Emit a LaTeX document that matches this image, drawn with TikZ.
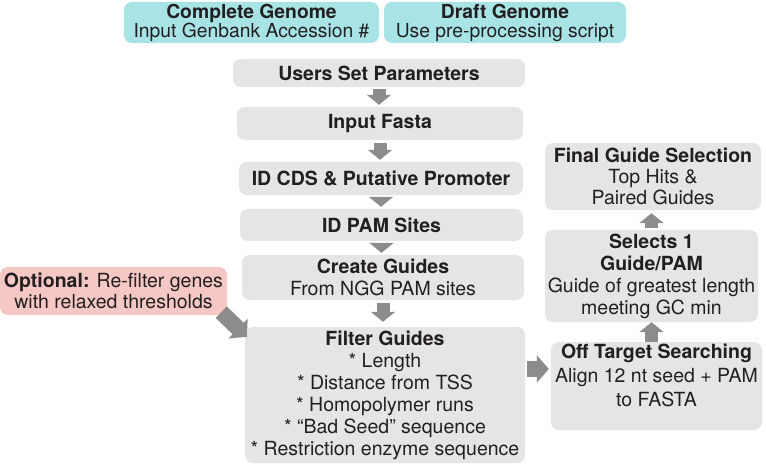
\documentclass[tikz,border=0pt]{standalone}
\usepackage{fontspec}
\setmainfont{TeX Gyre Heros}
\usetikzlibrary{arrows.meta,positioning}
\definecolor{boxgray}{RGB}{229,229,229}
\definecolor{genomecyan}{RGB}{168,228,230}
\definecolor{optpink}{RGB}{245,200,197}
\definecolor{arrowgray}{RGB}{140,140,140}
\definecolor{textblack}{RGB}{35,31,32}
\tikzset{font=\fontsize{19.5}{22}\selectfont}
\tikzset{stepbox/.style={fill=boxgray, rounded corners=8pt, align=center, inner sep=0pt, text=textblack}}
\tikzset{genomebox/.style={stepbox, fill=genomecyan, font=\fontsize{19.3}{19}\selectfont}}
\tikzset{sized/.style 2 args={minimum width=#1pt, minimum height=#2pt}}
\tikzset{flow/.style={draw=arrowgray, line width=13pt, -{Triangle[width=24pt,length=10pt]}}}
\tikzset{bigflow/.style={draw=arrowgray, line width=16pt, -{Triangle[width=27pt,length=12pt]}}}

\begin{document}
\begin{tikzpicture}[x=1pt, y=-1pt]
  \useasboundingbox (0,0) rectangle (766,465);

  % genome input
  \node[genomebox, sized={255}{41}] (complete) at (251.5,22.5) {\textbf{Complete Genome}\\Input Genbank Accession \#};
  \node[genomebox, sized={242}{41}] (draft) at (505,22.5) {\textbf{Draft Genome}\\Use pre-processing script};

  % main column
  \node[stepbox, sized={292}{28}] (params) at (379,73) {\textbf{Users Set Parameters}};
  \node[stepbox, sized={286}{33}] (fasta) at (380,123.5) {\textbf{Input Fasta}};
  \node[stepbox, sized={284}{33}] (cds) at (381,178.5) {\textbf{ID CDS \& Putative Promoter}};
  \node[stepbox, sized={283}{32}] (pam) at (381.5,225) {\textbf{ID PAM Sites}};
  \node[stepbox, sized={282}{45}] (create) at (383,277.5) {\textbf{Create Guides}\\From NGG PAM sites};
  \node[stepbox, sized={280}{136}] (filter) at (385,395) {\textbf{Filter Guides}\\* Length\\* Distance from TSS\\* Homopolymer runs\\* ``Bad Seed'' sequence\\* Restriction enzyme sequence};

  \node[stepbox, fill=optpink, sized={227}{48}, font=\fontsize{19.5}{21}\selectfont] (optional) at (113.5,291) {\textbf{Optional:} Re-filter genes\\with relaxed thresholds};

  % right column
  \node[stepbox, sized={216}{67}, font=\fontsize{19.5}{21}\selectfont] (final) at (653,176.5) {\textbf{Final Guide Selection}\\Top Hits \&\\Paired Guides};
  \node[stepbox, sized={213}{92}] (selects) at (651.5,276) {\textbf{Selects 1}\\\textbf{Guide/PAM}\\Guide of greatest length\\meeting GC min};
  \node[stepbox, sized={211}{88}, font=\fontsize{19.5}{24}\selectfont, text depth=22pt] (offtarget) at (656.5,386) {\textbf{Off Target Searching}\\Align 12 nt seed + PAM\\to FASTA};

  \draw[flow, shorten <=2pt, shorten >=2pt] (params.south) -- (params.south |- fasta.north);
  \draw[flow, shorten <=3pt, shorten >=2pt] (fasta.south) -- (fasta.south |- cds.north);
  \draw[flow, shorten <=2pt, shorten >=2pt] (cds.south) -- (cds.south |- pam.north);
  \draw[flow, shorten <=2pt, shorten >=2pt] (pam.south) -- (pam.south |- create.north);
  \draw[flow, shorten <=3pt, shorten >=5pt] (create.south) -- (create.south |- filter.north);

  \draw[bigflow] ([xshift=-6pt,yshift=3pt]optional.south east) -- ([xshift=2pt,yshift=-10pt]filter.north west);
  \draw[bigflow, shorten <=2pt, shorten >=2pt] ([yshift=26pt]filter.east) -- ([yshift=17pt]offtarget.west);

  \draw[flow, shorten >=0pt] (selects.south |- offtarget.north) -- (selects.south);
  \draw[flow, shorten <=2pt, shorten >=3pt] (selects.north) -- (selects.north |- final.south);
\end{tikzpicture}
\end{document}
